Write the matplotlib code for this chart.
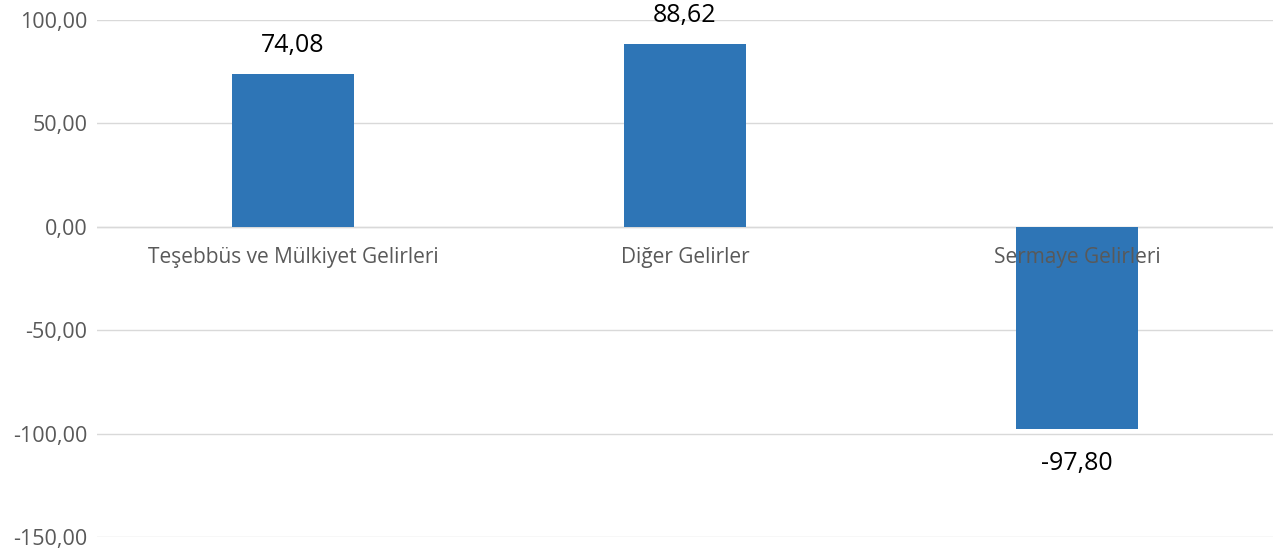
import matplotlib
matplotlib.use("Agg")
import matplotlib.pyplot as plt

categories = ["Teşebbüs ve Mülkiyet Gelirleri", "Diğer Gelirler", "Sermaye Gelirleri"]
values = [74.08, 88.62, -97.80]
yticks = [100, 50, 0, -50, -100, -150]

plt.rcParams['font.family'] = ['Open Sans', 'DejaVu Sans']

fig = plt.figure(figsize=(12.8, 5.51), dpi=100)
ax = fig.add_axes([97/1280, 1-537/551, (1273-97)/1280, (537-20)/551])

x = list(range(len(categories)))
ax.bar(x, values, width=0.31, color="#2E75B6", zorder=3)
ax.set_xlim(-0.5, len(categories)-0.5)
ax.set_ylim(-150, 100)
ax.set_yticks(yticks)
ax.set_yticklabels([f"{v:.2f}".replace(".", ",") for v in yticks], color="#595959", fontsize=15.5)
ax.tick_params(axis='y', length=0, pad=7)
ax.tick_params(axis='x', length=0)
ax.set_xticks([])
ax.grid(axis='y', color="#d9d9d9", linewidth=1, zorder=0)
for s in ax.spines.values():
    s.set_visible(False)
ax.axhline(0, color="#d9d9d9", linewidth=1, zorder=2)

for xi, c in zip(x, categories):
    ax.annotate(c, (xi, 0), xytext=(0, -31), textcoords="offset pixels",
                ha="center", va="center", color="#595959", fontsize=15, zorder=4)

for xi, v in zip(x, values):
    off = 28 if v >= 0 else -34
    ax.annotate(f"{v:.2f}".replace(".", ","), (xi, v), xytext=(0, off),
                textcoords="offset pixels", ha="center", va="center",
                color="black", fontsize=18, zorder=4)

fig.savefig("out.png", dpi=100)
